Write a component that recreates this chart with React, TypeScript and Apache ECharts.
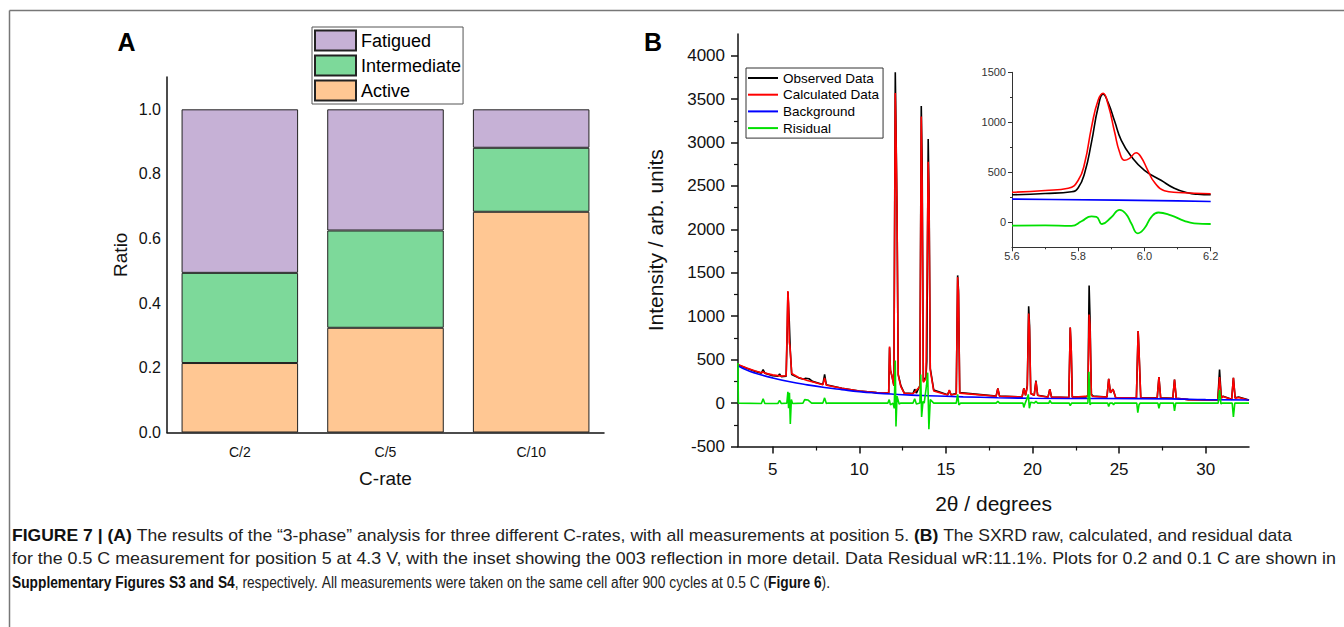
import React, { useEffect, useRef } from 'react';
import * as echarts from 'echarts';

// ---------- Panel A data ----------
const categories = ['C/2', 'C/5', 'C/10'];
const activeRatio = [0.215, 0.324, 0.683];
const intermediateRatio = [0.279, 0.301, 0.198];
const fatiguedRatio = [0.506, 0.375, 0.119];
const ratioTicks = [0, 0.2, 0.4, 0.6, 0.8, 1.0];
const ratioMinorTicks = [0.1, 0.3, 0.5, 0.7, 0.9];

// ---------- Panel B data ----------
const twoThetaTicks = [5, 10, 15, 20, 25, 30];
const twoThetaMinorTicks = [7.5, 12.5, 17.5, 22.5, 27.5];
const intensityTicks = [-500, 0, 500, 1000, 1500, 2000, 2500, 3000, 3500, 4000];
const intensityMinorTicks = [-250, 250, 750, 1250, 1750, 2250, 2750, 3250, 3750];

const observedData = [
  [3.0, 440], [3.5, 400], [4.0, 365], [4.35, 345], [4.45, 385], [4.55, 345], [5.0, 315], [5.3, 310], [5.4, 335], [5.5, 305],
  [5.78, 310], [5.85, 900], [5.88, 1280], [5.92, 1100], [5.96, 940], [6.02, 600], [6.1, 330], [6.5, 290], [6.8, 275], [6.9, 285],
  [7.1, 280], [7.3, 250], [7.9, 215], [8.0, 330], [8.1, 210], [9.0, 170], [10.0, 140], [11.0, 120], [11.7, 115], [11.75, 640],
  [11.8, 380], [11.9, 300], [12.0, 200], [12.08, 3810], [12.12, 3200], [12.18, 2200], [12.25, 330], [12.4, 200], [12.6, 115], [13.1, 110],
  [13.2, 160], [13.3, 115], [13.5, 200], [13.58, 3420], [13.63, 2800], [13.7, 250], [13.85, 300], [13.9, 480], [13.98, 3040], [14.03, 2400],
  [14.1, 400], [14.3, 150], [15.1, 95], [15.2, 145], [15.3, 95], [15.6, 110], [15.68, 1470], [15.73, 1300], [15.8, 120], [17.9, 80],
  [18.0, 170], [18.1, 80], [19.4, 70], [19.5, 170], [19.6, 90], [19.7, 200], [19.78, 1115], [19.83, 900], [19.9, 110], [20.1, 90],
  [20.2, 260], [20.3, 90], [20.9, 70], [21.0, 160], [21.1, 70], [22.1, 65], [22.18, 870], [22.24, 600], [22.3, 70], [23.1, 70],
  [23.2, 90], [23.27, 1355], [23.32, 1000], [23.4, 100], [23.5, 80], [24.3, 70], [24.4, 280], [24.5, 120], [24.65, 160], [24.8, 65],
  [26.0, 60], [26.1, 830], [26.15, 600], [26.25, 60], [27.2, 60], [27.3, 300], [27.4, 60], [28.1, 55], [28.2, 270], [28.3, 55],
  [29.0, 40], [30.7, 35], [30.8, 385], [30.9, 60], [31.0, 80], [31.5, 45], [31.6, 290], [31.7, 60], [31.9, 70], [32.5, 35],
];

const calculatedData = [
  [3.0, 445], [3.5, 405], [4.0, 370], [4.35, 350], [4.45, 360], [4.55, 345], [5.0, 325], [5.5, 310], [5.78, 315], [5.85, 1000],
  [5.88, 1290], [5.92, 1150], [5.96, 700], [6.0, 650], [6.1, 340], [6.5, 295], [7.0, 260], [7.5, 235], [7.9, 210], [8.0, 290],
  [8.1, 205], [9.0, 170], [10.0, 140], [11.0, 120], [11.7, 115], [11.75, 650], [11.8, 380], [11.9, 300], [12.0, 200], [12.08, 3570],
  [12.12, 3100], [12.18, 2240], [12.25, 320], [12.4, 190], [12.6, 112], [13.1, 108], [13.5, 190], [13.58, 3300], [13.63, 2500], [13.7, 240],
  [13.85, 280], [13.98, 2780], [14.03, 2300], [14.1, 380], [14.3, 140], [15.1, 92], [15.2, 150], [15.3, 92], [15.6, 105], [15.68, 1450],
  [15.73, 1250], [15.8, 115], [17.9, 78], [18.0, 170], [18.1, 78], [19.4, 70], [19.5, 170], [19.6, 90], [19.7, 180], [19.78, 1030],
  [19.83, 850], [19.9, 110], [20.1, 90], [20.2, 250], [20.3, 88], [20.9, 68], [21.0, 160], [21.1, 68], [22.1, 65], [22.18, 870],
  [22.24, 600], [22.3, 68], [23.2, 80], [23.27, 1020], [23.32, 900], [23.4, 90], [23.5, 75], [24.3, 68], [24.4, 280], [24.5, 120],
  [24.65, 160], [24.8, 65], [26.0, 60], [26.1, 830], [26.15, 600], [26.25, 60], [27.2, 58], [27.3, 300], [27.4, 58], [28.1, 55],
  [28.2, 270], [28.3, 55], [29.0, 40], [30.7, 35], [30.8, 300], [30.9, 55], [31.0, 75], [31.5, 42], [31.6, 290], [31.7, 55],
  [31.9, 65], [32.5, 32],
];

const backgroundData = [
  [3, 430], [3.5, 380], [4, 345], [5, 290], [6, 245], [7, 210], [8, 180], [9, 155], [10, 132], [11, 115],
  [12, 102], [13, 92], [14, 85], [16, 72], [18, 62], [20, 55], [24, 52], [28, 48], [30, 40], [32.5, 35],
];

const residualData = [
  [3.0, 460], [3.02, 0], [4.35, -5], [4.45, 50], [4.55, -5], [5.3, -5], [5.4, 30], [5.5, -5], [5.82, 0], [5.88, 130],
  [5.92, -60], [5.97, 120], [6.02, -240], [6.08, 40], [6.15, -5], [6.75, 0], [6.85, 40], [7.05, 35], [7.25, 0], [7.9, 0],
  [8.0, 60], [8.1, -5], [8.2, 0], [11.65, 0], [11.73, 40], [11.8, -20], [11.95, 0], [12.02, -60], [12.08, 490], [12.12, -270],
  [12.18, 80], [12.3, -10], [12.4, 0], [13.1, 0], [13.2, 50], [13.3, -10], [13.5, 0], [13.55, 330], [13.6, -160], [13.68, 20],
  [13.75, 0], [13.88, 200], [13.95, 350], [14.02, -300], [14.1, 40], [14.3, 0], [15.6, 0], [15.68, 100], [15.75, -20], [15.85, 0],
  [17.9, 0], [18.0, 20], [18.1, 0], [19.45, 0], [19.5, -50], [19.58, 0], [19.7, 60], [19.76, 100], [19.82, -60], [19.9, 10],
  [20.1, 0], [20.2, 20], [20.3, 0], [20.95, 0], [21.0, 30], [21.1, 0], [22.12, 0], [22.18, -30], [22.26, 0], [23.2, 0],
  [23.26, 360], [23.32, -20], [23.4, 0], [24.34, 0], [24.4, -40], [24.47, 0], [24.62, 0], [24.68, -20], [24.75, 0], [26.02, 0],
  [26.08, -110], [26.15, -20], [26.22, 0], [27.24, 0], [27.3, -60], [27.37, 0], [28.14, 0], [28.2, -90], [28.27, 0], [30.72, 0],
  [30.8, 150], [30.88, -10], [30.95, 0], [31.53, 0], [31.6, -160], [31.68, 0], [32.5, 0],
];

// ---------- Inset data (003 reflection) ----------
const insetXTicks = [5.6, 5.8, 6.0, 6.2];
const insetXMinorTicks = [5.7, 5.9, 6.1];
const insetYTicks = [0, 500, 1000, 1500];
const insetYMinorTicks = [250, 750, 1250];

const insetObserved = [
  [5.6, 275], [5.7, 288], [5.78, 305], [5.8, 345], [5.82, 500], [5.84, 800], [5.86, 1150], [5.875, 1280], [5.89, 1200], [5.91, 1010],
  [5.93, 820], [5.96, 660], [6.0, 520], [6.05, 420], [6.09, 340], [6.13, 295], [6.16, 280], [6.2, 275],
];
const insetCalculated = [
  [5.6, 300], [5.7, 318], [5.77, 340], [5.8, 420], [5.82, 600], [5.84, 950], [5.86, 1220], [5.875, 1290], [5.89, 1180], [5.91, 900],
  [5.925, 700], [5.94, 620], [5.955, 640], [5.975, 695], [5.99, 650], [6.01, 520], [6.03, 400], [6.06, 315], [6.1, 298], [6.2, 285],
];
const insetBackground = [[5.6, 232], [5.72, 228], [5.92, 222], [6.1, 214], [6.2, 208]];
const insetResidual = [
  [5.6, -34], [5.7, -30], [5.78, -35], [5.81, 10], [5.84, 60], [5.855, 55], [5.872, -17], [5.9, 50], [5.925, 125], [5.945, 80],
  [5.96, -10], [5.98, -110], [6.0, -60], [6.02, 50], [6.042, 98], [6.08, 70], [6.12, 15], [6.15, -10], [6.2, -17],
];

// ---------- Caption ----------
type Run = { text: string; bold: boolean };
const captionLine1: Run[] = [
  { text: 'FIGURE 7 | (A)', bold: true },
  { text: ' The results of the \u201c3-phase\u201d analysis for three different C-rates, with all measurements at position 5. ', bold: false },
  { text: '(B)', bold: true },
  { text: ' The SXRD raw, calculated, and residual data', bold: false },
];
const captionLine2: Run[] = [
  { text: 'for the 0.5 C measurement for position 5 at 4.3 V, with the inset showing the 003 reflection in more detail. Data Residual wR:11.1%. Plots for 0.2 and 0.1 C are shown in', bold: false },
];
const captionLine3: Run[] = [
  { text: 'Supplementary Figures S3 and S4', bold: true },
  { text: ', respectively. All measurements were taken on the same cell after 900 cycles at 0.5 C (', bold: false },
  { text: 'Figure 6', bold: true },
  { text: ').', bold: false },
];

const FONT = "'Liberation Sans', Arial, Helvetica, sans-serif";
const AXIS_COLOR = '#111';
const CAPTION_SIZE = 16;
const CAPTION_COLOR = '#222';

let measureCtx: CanvasRenderingContext2D | null = null;
function measure(text: string, bold: boolean) {
  if (!measureCtx) measureCtx = document.createElement('canvas').getContext('2d');
  measureCtx!.font = `${bold ? 'bold ' : ''}${CAPTION_SIZE}px ${FONT}`;
  return measureCtx!.measureText(text).width;
}

// One caption line, split into words, horizontally scaled so that it spans x0..x1 as in the printed figure
function captionLine(runs: Run[], x0: number, x1: number, y: number) {
  const spaceW = measure(' ', false);
  const tokens: { text: string; bold: boolean; x: number }[] = [];
  let x = 0;
  runs.forEach((r) => {
    r.text.split(' ').forEach((p, i) => {
      if (i > 0) x += spaceW;
      if (p.length) {
        tokens.push({ text: p, bold: r.bold, x });
        x += measure(p, r.bold);
      }
    });
  });
  const scale = x > 0 ? (x1 - x0) / x : 1;
  return tokens.map((t) => ({
    type: 'text', x: x0 + t.x * scale, y, scaleX: scale, silent: true,
    style: {
      text: t.text, fontSize: CAPTION_SIZE, fontFamily: FONT, fontWeight: t.bold ? 'bold' : 'normal',
      fill: t.bold ? '#111' : CAPTION_COLOR, verticalAlign: 'middle',
    },
  }));
}

function mainAxisLine(width: number) {
  return { show: true, onZero: false, lineStyle: { color: AXIS_COLOR, width } };
}

function buildOption(): any {
  return {
    animation: false,
    backgroundColor: '#ffffff',
    textStyle: { fontFamily: FONT },
    grid: [
      { left: 167, top: 77, width: 437, height: 355.5, outerBoundsMode: 'none' },
      { left: 738, top: 34, width: 511, height: 412.5, outerBoundsMode: 'none' },
      { left: 1012, top: 72.3, width: 198.7, height: 175, outerBoundsMode: 'none' },
    ],
    legend: [
      {
        data: ['Fatigued', 'Intermediate', 'Active'],
        orient: 'vertical', left: 312, top: 27, icon: 'rect',
        itemWidth: 41, itemHeight: 20, itemGap: 3, padding: [2.5, 2, 2.5, 2],
        borderColor: '#555', borderWidth: 1, selectedMode: false,
        textStyle: { fontSize: 18, color: '#000', fontFamily: FONT },
      },
      {
        data: ['Observed Data', 'Calculated Data', 'Background', 'Risidual'],
        orient: 'vertical', left: 746, top: 68, icon: 'rect',
        itemWidth: 30, itemHeight: 2, itemGap: 2.7, padding: [3, 4, 3, 2],
        borderColor: '#333', borderWidth: 1, selectedMode: false,
        textStyle: { fontSize: 13.5, color: '#000', fontFamily: FONT },
      },
    ],
    xAxis: [
      {
        gridIndex: 0, type: 'category', data: categories, boundaryGap: true, position: 'bottom',
        axisLine: mainAxisLine(1.5),
        axisTick: { alignWithLabel: true, length: 7, lineStyle: { color: AXIS_COLOR, width: 1.5 } },
        axisLabel: { fontSize: 14, color: '#111', margin: 12, fontFamily: FONT },
        splitLine: { show: false },
        name: 'C-rate', nameLocation: 'middle', nameGap: 36,
        nameTextStyle: { fontSize: 19, color: '#111', fontFamily: FONT },
      },
      {
        gridIndex: 0, type: 'category', data: categories, boundaryGap: true, position: 'bottom',
        axisLine: { show: false, onZero: false },
        axisTick: { length: 3, lineStyle: { color: AXIS_COLOR, width: 1.2 } },
        axisLabel: { show: false }, splitLine: { show: false },
      },
      {
        gridIndex: 1, type: 'value', min: 3, max: 32.5, position: 'bottom',
        axisLine: mainAxisLine(1.5),
        axisTick: { customValues: twoThetaTicks, length: 7, lineStyle: { color: AXIS_COLOR, width: 1.5 } },
        axisLabel: { customValues: twoThetaTicks, fontSize: 17, color: '#111', margin: 14, fontFamily: FONT, formatter: (v: number) => String(v) },
        splitLine: { show: false },
        name: '2θ / degrees', nameLocation: 'middle', nameGap: 46,
        nameTextStyle: { fontSize: 21, color: '#111', fontFamily: FONT },
      },
      {
        gridIndex: 1, type: 'value', min: 3, max: 32.5, position: 'bottom',
        axisLine: { show: false, onZero: false },
        axisTick: { customValues: twoThetaMinorTicks, length: 4, lineStyle: { color: AXIS_COLOR, width: 1.2 } },
        axisLabel: { show: false }, splitLine: { show: false },
      },
      {
        gridIndex: 2, type: 'value', min: 5.6, max: 6.2, position: 'bottom',
        axisLine: { show: true, onZero: false, lineStyle: { color: '#333', width: 1 } },
        axisTick: { customValues: insetXTicks, length: 4, lineStyle: { color: '#333', width: 1 } },
        axisLabel: { customValues: insetXTicks, fontSize: 11, color: '#333', margin: 3, fontFamily: FONT, formatter: (v: number) => v.toFixed(1) },
        splitLine: { show: false },
      },
      {
        gridIndex: 2, type: 'value', min: 5.6, max: 6.2, position: 'bottom',
        axisLine: { show: false, onZero: false },
        axisTick: { customValues: insetXMinorTicks, length: 2, lineStyle: { color: '#333', width: 1 } },
        axisLabel: { show: false }, splitLine: { show: false },
      },
    ],
    yAxis: [
      {
        gridIndex: 0, type: 'value', min: 0, max: 1.1, position: 'left',
        axisLine: mainAxisLine(1.5),
        axisTick: { customValues: ratioTicks, length: 6, lineStyle: { color: AXIS_COLOR, width: 1.5 } },
        axisLabel: { customValues: ratioTicks, fontSize: 16, color: '#111', margin: 6, fontFamily: FONT, formatter: (v: number) => v.toFixed(1) },
        splitLine: { show: false },
        name: 'Ratio', nameLocation: 'middle', nameRotate: 90, nameGap: 37,
        nameTextStyle: { fontSize: 19, color: '#111', fontFamily: FONT },
      },
      {
        gridIndex: 0, type: 'value', min: 0, max: 1.1, position: 'left',
        axisLine: { show: false, onZero: false },
        axisTick: { customValues: ratioMinorTicks, length: 3, lineStyle: { color: AXIS_COLOR, width: 1.2 } },
        axisLabel: { show: false }, splitLine: { show: false },
      },
      {
        gridIndex: 1, type: 'value', min: -500, max: 4250, position: 'left',
        axisLine: mainAxisLine(1.5),
        axisTick: { customValues: intensityTicks, length: 7, lineStyle: { color: AXIS_COLOR, width: 1.5 } },
        axisLabel: { customValues: intensityTicks, fontSize: 17, color: '#111', margin: 13, fontFamily: FONT, formatter: (v: number) => String(v) },
        splitLine: { show: false },
        name: 'Intensity / arb. units', nameLocation: 'middle', nameRotate: 90, nameGap: 72,
        nameTextStyle: { fontSize: 21, color: '#111', fontFamily: FONT },
      },
      {
        gridIndex: 1, type: 'value', min: -500, max: 4250, position: 'left',
        axisLine: { show: false, onZero: false },
        axisTick: { customValues: intensityMinorTicks, length: 4, lineStyle: { color: AXIS_COLOR, width: 1.2 } },
        axisLabel: { show: false }, splitLine: { show: false },
      },
      {
        gridIndex: 2, type: 'value', min: -250, max: 1500, position: 'left',
        axisLine: { show: true, onZero: false, lineStyle: { color: '#333', width: 1 } },
        axisTick: { customValues: insetYTicks, length: 4, lineStyle: { color: '#333', width: 1 } },
        axisLabel: { customValues: insetYTicks, fontSize: 11, color: '#333', margin: 6, fontFamily: FONT, formatter: (v: number) => String(v) },
        splitLine: { show: false },
      },
      {
        gridIndex: 2, type: 'value', min: -250, max: 1500, position: 'left',
        axisLine: { show: false, onZero: false },
        axisTick: { customValues: insetYMinorTicks, length: 2, lineStyle: { color: '#333', width: 1 } },
        axisLabel: { show: false }, splitLine: { show: false },
      },
    ],
    series: [
      {
        name: 'Active', type: 'bar', stack: 'ratio', xAxisIndex: 0, yAxisIndex: 0, data: activeRatio,
        barCategoryGap: '20%', itemStyle: { color: '#FFC793', borderColor: '#222', borderWidth: 1 },
      },
      {
        name: 'Intermediate', type: 'bar', stack: 'ratio', xAxisIndex: 0, yAxisIndex: 0, data: intermediateRatio,
        barCategoryGap: '20%', itemStyle: { color: '#7DD99A', borderColor: '#222', borderWidth: 1 },
      },
      {
        name: 'Fatigued', type: 'bar', stack: 'ratio', xAxisIndex: 0, yAxisIndex: 0, data: fatiguedRatio,
        barCategoryGap: '20%', itemStyle: { color: '#C6B1D6', borderColor: '#222', borderWidth: 1 },
      },
      {
        name: 'Observed Data', type: 'line', xAxisIndex: 2, yAxisIndex: 2, data: observedData,
        symbol: 'none', lineStyle: { color: '#000', width: 1.6 }, itemStyle: { color: '#000' },
      },
      {
        name: 'Calculated Data', type: 'line', xAxisIndex: 2, yAxisIndex: 2, data: calculatedData,
        symbol: 'none', lineStyle: { color: '#FF0000', width: 1.6 }, itemStyle: { color: '#FF0000' },
      },
      {
        name: 'Background', type: 'line', xAxisIndex: 2, yAxisIndex: 2, data: backgroundData, smooth: true,
        symbol: 'none', lineStyle: { color: '#0000FF', width: 1.6 }, itemStyle: { color: '#0000FF' },
      },
      {
        name: 'Risidual', type: 'line', xAxisIndex: 2, yAxisIndex: 2, data: residualData,
        symbol: 'none', lineStyle: { color: '#00E000', width: 1.6 }, itemStyle: { color: '#00E000' },
      },
      {
        name: 'Observed (inset)', type: 'line', xAxisIndex: 4, yAxisIndex: 4, data: insetObserved, smooth: true,
        symbol: 'none', lineStyle: { color: '#000', width: 1.6 },
      },
      {
        name: 'Calculated (inset)', type: 'line', xAxisIndex: 4, yAxisIndex: 4, data: insetCalculated, smooth: true,
        symbol: 'none', lineStyle: { color: '#FF0000', width: 1.6 },
      },
      {
        name: 'Background (inset)', type: 'line', xAxisIndex: 4, yAxisIndex: 4, data: insetBackground,
        symbol: 'none', lineStyle: { color: '#0000FF', width: 1.6 },
      },
      {
        name: 'Residual (inset)', type: 'line', xAxisIndex: 4, yAxisIndex: 4, data: insetResidual, smooth: true,
        symbol: 'none', lineStyle: { color: '#00E000', width: 1.8 },
      },
    ],
    graphic: [
      { type: 'line', shape: { x1: 9.5, y1: 10.5, x2: 1344, y2: 10.5 }, style: { stroke: '#777', lineWidth: 1.5 } },
      { type: 'line', shape: { x1: 9.5, y1: 10.5, x2: 9.5, y2: 627 }, style: { stroke: '#777', lineWidth: 1.5 } },
      {
        type: 'text', x: 126.5, y: 42,
        style: { text: 'A', fontSize: 25, fontWeight: 'bold', fontFamily: FONT, fill: '#000', align: 'center', verticalAlign: 'middle' },
      },
      {
        type: 'text', x: 653, y: 42,
        style: { text: 'B', fontSize: 25, fontWeight: 'bold', fontFamily: FONT, fill: '#000', align: 'center', verticalAlign: 'middle' },
      },
      ...captionLine(captionLine1, 12, 1292, 536),
      ...captionLine(captionLine2, 12, 1336, 559),
      ...captionLine(captionLine3, 12, 830, 582),
    ],
  };
}

export default function App() {
  const ref = useRef<HTMLDivElement>(null);
  useEffect(() => {
    if (!ref.current) return;
    const chart = echarts.init(ref.current, null, { renderer: 'svg' });
    chart.setOption(buildOption());
    return () => chart.dispose();
  }, []);
  return (
    <div
      ref={ref}
      style={{ position: 'fixed', left: 0, top: 0, width: 1344, height: 627, background: '#fff' }}
    />
  );
}
